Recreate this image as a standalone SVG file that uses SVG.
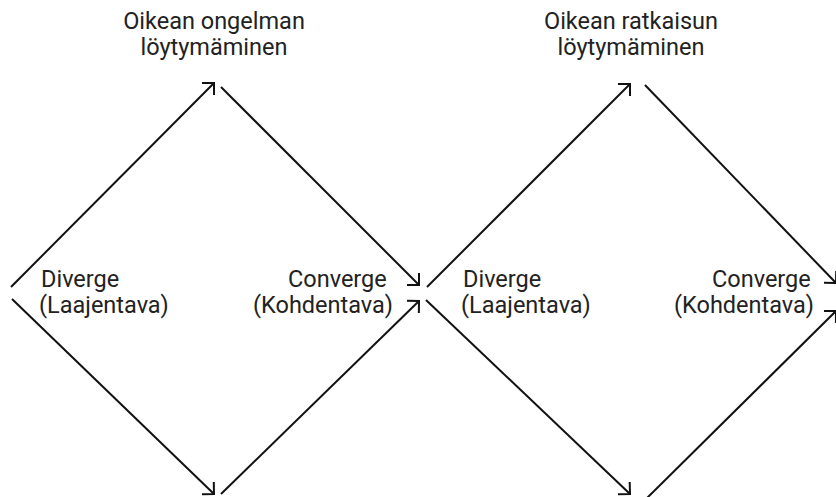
<svg xmlns="http://www.w3.org/2000/svg" width="836" height="497" viewBox="0 0 836 497">
  <style>
    .edge { fill: none; stroke: #111; stroke-width: 2; marker-end: url(#chev); }
    .lbl { font-family: Roboto, "Liberation Sans", sans-serif; font-size: 23.5px; fill: #222; }
    .mid { text-anchor: middle; }
  </style>
  <defs>
    <marker id="chev" markerUnits="userSpaceOnUse" viewBox="-12 -12 24 24" markerWidth="24" markerHeight="24" refX="0" refY="0" orient="auto" overflow="visible">
      <path d="M-8.5,-8.5 L0,0 L-8.5,8.5" fill="none" stroke="#111" stroke-width="2"/>
    </marker>
  </defs>
  <rect width="836" height="497" fill="#fff"/>

  <g id="connectors">
    <line class="edge" x1="11" y1="287" x2="214" y2="83"/>
    <line class="edge" x1="221" y1="87" x2="419" y2="285"/>
    <line class="edge" x1="12" y1="299" x2="214" y2="494"/>
    <line class="edge" x1="221" y1="494" x2="419" y2="301"/>
    <line class="edge" x1="427" y1="287" x2="630" y2="84"/>
    <line class="edge" x1="426" y1="300" x2="630" y2="494"/>
    <line class="edge" x1="645" y1="85" x2="836" y2="283"/>
    <line class="edge" x1="645" y1="500" x2="836" y2="311"/>
  </g>

  <g id="problem-found">
    <text class="lbl mid" x="214" y="29">Oikean ongelman</text>
    <text class="lbl mid" x="214" y="55">löytymäminen</text>
  </g>
  <g id="solution-found">
    <text class="lbl mid" x="631" y="29">Oikean ratkaisun</text>
    <text class="lbl mid" x="631" y="55">löytymäminen</text>
  </g>
  <g id="diverge-1">
    <text class="lbl" x="41" y="287">Diverge</text>
    <text class="lbl" x="39" y="313">(Laajentava)</text>
  </g>
  <g id="converge-1">
    <text class="lbl" x="288" y="287">Converge</text>
    <text class="lbl" x="253" y="313">(Kohdentava)</text>
  </g>
  <g id="diverge-2">
    <text class="lbl" x="463" y="287">Diverge</text>
    <text class="lbl" x="461" y="313">(Laajentava)</text>
  </g>
  <g id="converge-2">
    <text class="lbl" x="712" y="287">Converge</text>
    <text class="lbl" x="674" y="313">(Kohdentava)</text>
  </g>
</svg>
